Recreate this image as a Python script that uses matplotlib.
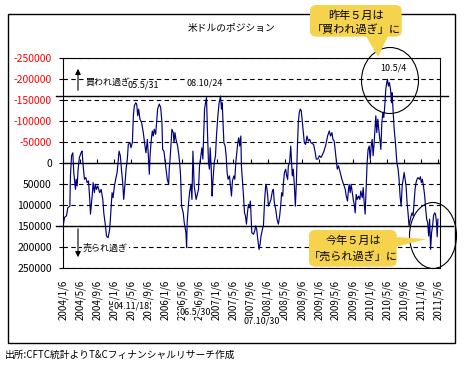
import numpy as np
import pandas as pd
import matplotlib
matplotlib.use('Agg')
import matplotlib.pyplot as plt
from matplotlib.patches import Rectangle, Ellipse, FancyBboxPatch, Polygon
from matplotlib.transforms import blended_transform_factory

plt.rcParams['font.family'] = ['Noto Sans CJK JP', 'DejaVu Sans']

# ---- データ (CFTC 米ドル ポジション, 単位: 千枚) ----
start = pd.Timestamp('2004-01-06')
days_from_start = [
    1, 11, 25, 34, 49, 53, 61, 70, 77, 89, 94, 101, 108, 117, 129, 136, 144, 153, 163, 172,
    182, 191, 196, 208, 215, 224, 231, 239, 248, 262, 272, 284, 291, 303, 310, 322, 333, 338, 345, 350,
    357, 367, 376, 386, 393, 400, 409, 417, 426, 433,
    443, 450, 459, 466, 478, 485, 495, 502, 509, 519, 526, 533, 540, 549, 561, 573, 585, 592, 602, 609,
    616, 621, 628, 637, 644, 651, 661, 668, 675, 687, 697, 706, 711, 720, 727, 735, 744, 754, 758, 763,
    770, 777, 787, 792, 799, 806, 818, 827, 834, 839, 846, 858, 865, 877, 882,
    886, 894, 903, 913, 920, 927, 936, 950, 967, 974, 984, 991, 998, 1003, 1010, 1017, 1024, 1031, 1038, 1045,
    1050, 1057, 1064, 1069, 1079, 1088, 1095, 1105, 1110, 1114, 1124, 1131, 1136, 1140, 1148, 1157, 1164, 1171, 1178, 1188,
    1195, 1202, 1209, 1219, 1226, 1233, 1240, 1247, 1254, 1261, 1269, 1273, 1283, 1288, 1295, 1302, 1309, 1316, 1323, 1330,
    1337,
    1340, 1347, 1359, 1368, 1375, 1382, 1390, 1399, 1406, 1413, 1423, 1430, 1439, 1447, 1454, 1461, 1465, 1475, 1484, 1494,
    1501, 1508, 1518, 1527, 1537, 1546, 1553, 1560, 1568, 1572, 1580, 1589, 1596, 1603, 1608, 1617, 1625, 1632, 1636, 1643,
    1651, 1658, 1665, 1672, 1679, 1686, 1693, 1700, 1708, 1715, 1722, 1731, 1741, 1750, 1760, 1769,
    1788, 1800, 1807, 1819, 1829, 1841, 1852, 1862, 1876, 1888, 1900, 1909, 1919, 1926, 1935, 1943, 1950, 1957, 1966, 1978,
    1990, 2002, 2014, 2021, 2030, 2037, 2042, 2049, 2056, 2064, 2071, 2078, 2085, 2092, 2099, 2109, 2118, 2125, 2135, 2142,
    2149, 2156, 2163, 2170, 2177, 2185, 2192, 2199, 2206, 2213, 2220, 2227,
    2232, 2239, 2246, 2253, 2261, 2268, 2275, 2282, 2289, 2296, 2303, 2310, 2315, 2322, 2329, 2337, 2344, 2348, 2356, 2363,
    2372, 2382, 2391, 2398, 2405, 2413, 2420, 2427, 2434, 2441, 2448, 2455, 2462, 2469, 2476, 2484, 2491, 2498, 2505, 2512,
    2519, 2526, 2533, 2543, 2550, 2557, 2564, 2572, 2581, 2588, 2595, 2602, 2609, 2616, 2623, 2630, 2637, 2644, 2651, 2658,
    2665, 2670, 2675,
]
positions_k = [
    149, 129, 125, 106, 102, 30, -18, -25, 22, 62, 38, 54, 14, -14, -25, -29, 6, 38, 34, 46,
    42, 86, 121, 78, 46, 70, 50, 62, 54, 70, 62, 86, 118, 149, 173, 177, 157, 133, 94, 70,
    82, 54, 38, 22, -2, -29, -18, 14, 46, 86,
    46, 14, -10, -45, -49, -37, -49, -113, -137, -144, -141, -113, -129, -105, -97, -73, -41, -25, -57, -18,
    26, -18, -49, -77, -65, -81, -69, -97, -129, -141, -133, -97, -33, -29, -10, 14, 38, 50, 14, -6,
    -41, -81, -73, -49, -73, -57, -41, -18, 6, 30, 102, 118, 141, 165, 201,
    141, 102, 70, 50, 86, -29, 54, 86, 62, 6, -18, -37, -10, -57, -129, -144, -156, -73, -2, 14,
    -37, 6, 78, 46, -2, -18, -65, -113, -129, -144, -160, -129, -144, -113, -49, -41, -18, 22, 38, 30,
    54, 78, 42, 30, 38, -2, -25, -49, -61, -41, -65, 6, 54, 78, 118, 125, 145, 118, 98, 106,
    90,
    110, 165, 169, 161, 149, 157, 181, 205, 193, 173, 157, 149, 86, 50, 58, 78, 102, 94, 86, 66,
    62, 94, 110, 133, 145, 125, 102, 70, 78, 50, 22, 14, 30, 38, 6, -2, -41, 6, 30, 14,
    54, 102, 46, -33, -97, -121, -129, -125, -97, -73, -49, -45, -65, -53, -57, -49,
    -45, -25, -10, -10, -18, -14, -21, -29, -45, -65, -77, -65, -73, -57, -53, -29, -6, 14, 6, 22,
    38, 50, 62, 78, 90, 62, 50, 70, 50, 70, 86, 98, 118, 74, 86, 78, 86, 66, 82, 58,
    94, 121, 62, -2, -33, -41, -10, -41, -57, -18, -49, -85,
    -113, -73, -105, -81, -57, -33, -97, -121, -109, -137, -176, -192, -200, -184, -192, -176, -144, -168, -121, -81,
    -49, -2, 14, 38, 78, 102, 54, 38, 22, 38, 54, 94, 118, 149, 137, 125, 118, 125, 94, 62,
    46, 38, 34, 38, 32, 46, 38, 54, 78, 110, 133, 141, 173, 133, 205, 165, 149, 125, 118, 121,
    141, 175, 133,
]

tick_dates = pd.date_range('2004-01-01', '2011-05-01', freq='4MS') + pd.Timedelta(days=5)
tick_labels = [f'{d.year}/{d.month}/{d.day}' for d in tick_dates]
y_ticks = list(range(-250000, 250001, 50000))
over_bought = -160000
over_sold = 150000

dates = start + pd.to_timedelta(days_from_start, unit='D')
values = np.array(positions_k) * 1000

W, H = 465, 365
fig = plt.figure(figsize=(W / 100, H / 100), dpi=100)


def fx(px):
    return px / W


def fy(py):
    return 1 - py / H


# 外枠
fig.add_artist(Rectangle((fx(8.3), fy(342.7)), (455 - 8.3) / W, (342.7 - 14.3) / H,
                         transform=fig.transFigure, fill=False, ec='black', lw=1))

ax = fig.add_axes([fx(63), fy(268.3), 377 / W, 210 / H])
ax.plot(dates, values, color='#000080', lw=0.85, zorder=3)

ax.set_ylim(250000, -250000)
ax.set_yticks(y_ticks)
ax.set_yticklabels([str(v) for v in y_ticks], fontsize=7.5)
for lab, v in zip(ax.get_yticklabels(), y_ticks):
    lab.set_color('red' if v < 0 else 'black')
ax.tick_params(axis='y', direction='out', length=3, width=0.8, pad=5)
ax.yaxis.grid(True, ls=(0, (4, 3)), color='black', lw=0.8)
ax.axhline(0, color='black', lw=1.0, zorder=2)

ax.set_xlim(pd.Timestamp('2004-01-12'), pd.Timestamp('2011-05-19'))
ax.set_xticks(tick_dates)
ax.set_xticklabels(tick_labels, rotation=90, fontsize=7, va='top', ha='center')
ax.tick_params(axis='x', length=0, pad=8)
ax.plot(tick_dates, np.zeros(len(tick_dates)), ls='none', marker=2, ms=3,
        mew=0.8, color='black', zorder=2)

for s in ax.spines.values():
    s.set_linewidth(0.8)
    s.set_color('black')

# 買われ過ぎ / 売られ過ぎ ライン (枠外まではみ出す)
trans = blended_transform_factory(ax.transAxes, ax.transData)
ax.plot([-0.019, 1.021], [over_bought, over_bought], transform=trans,
        color='black', lw=1.0, clip_on=False, zorder=2)
ax.plot([-0.019, 1.034], [over_sold, over_sold], transform=trans,
        color='black', lw=1.0, clip_on=False, zorder=2)

# タイトル・出所
fig.text(fx(232), fy(28.5), '米ドルのポジション', fontsize=7, ha='center', va='center')
fig.text(fx(5), fy(355), '出所:CFTC統計よりT&Cフィナンシャルリサーチ作成',
         fontsize=7, ha='left', va='center')

# 矢印と注記
fig.add_artist(plt.Annotation('', xy=(fx(78), fy(66)), xytext=(fx(78), fy(93)),
               xycoords='figure fraction',
               arrowprops=dict(arrowstyle='-|>', color='black', lw=0.8, mutation_scale=8)))
fig.add_artist(plt.Annotation('', xy=(fx(78), fy(260)), xytext=(fx(78), fy(226)),
               xycoords='figure fraction',
               arrowprops=dict(arrowstyle='-|>', color='black', lw=0.8, mutation_scale=8)))

wbox = dict(facecolor='white', edgecolor='none', pad=0.5)
fig.text(fx(86), fy(82), '買われ過ぎ', fontsize=6.5, ha='left', va='center', bbox=wbox)
fig.text(fx(143), fy(85), '05.5/31', fontsize=6.5, ha='center', va='center', bbox=wbox)
fig.text(fx(205), fy(83), '08.10/24', fontsize=6.5, ha='center', va='center', bbox=wbox)
fig.text(fx(393), fy(68), '10.5/4', fontsize=6.5, ha='center', va='center')
fig.text(fx(83), fy(248), '売られ過ぎ', fontsize=6.5, ha='left', va='center', bbox=wbox)
fig.text(fx(131.7), fy(306), '04.11/18', fontsize=6.5, ha='center', va='center', bbox=wbox)
fig.text(fx(195), fy(312), '06.5/30', fontsize=6.5, ha='center', va='center', bbox=wbox)
fig.text(fx(262), fy(321), '07.10/30', fontsize=6.5, ha='center', va='center', bbox=wbox)

# 丸囲み
fig.add_artist(Ellipse((fx(390), fy(80.5)), 57 / W, 66 / H, transform=fig.transFigure,
                       fill=False, ec='black', lw=0.8))
fig.add_artist(Ellipse((fx(433), fy(235.5)), 47 / W, 66 / H, transform=fig.transFigure,
                       fill=False, ec='black', lw=0.8))

# 吹き出し
yellow = '#f6d34c'
fig.add_artist(FancyBboxPatch((fx(310), fy(36.7)), 91.7 / W, 31.7 / H,
                              boxstyle='round,pad=0,rounding_size=0.015',
                              transform=fig.transFigure, fc=yellow, ec='none', zorder=5))
fig.add_artist(Polygon([(fx(366), fy(36)), (fx(388), fy(36)), (fx(378), fy(57))],
                       closed=True, transform=fig.transFigure, fc=yellow, ec='none', zorder=5))
fig.text(fx(356), fy(15.5), '昨年５月は', fontsize=8, ha='center', va='center', zorder=6)
fig.text(fx(356), fy(29), '「買われ過ぎ」に', fontsize=8, ha='center', va='center', zorder=6)

fig.add_artist(FancyBboxPatch((fx(309), fy(266.7)), 87.7 / W, 36.7 / H,
                              boxstyle='round,pad=0,rounding_size=0.015',
                              transform=fig.transFigure, fc=yellow, ec='none', zorder=5))
fig.add_artist(Polygon([(fx(395), fy(237)), (fx(395), fy(247)), (fx(427), fy(239))],
                       closed=True, transform=fig.transFigure, fc=yellow, ec='none', zorder=5))
fig.text(fx(353), fy(241), '今年５月は', fontsize=8, ha='center', va='center', zorder=6)
fig.text(fx(353), fy(256), '「売られ過ぎ」に', fontsize=8, ha='center', va='center', zorder=6)

fig.savefig('out.png', dpi=100)
